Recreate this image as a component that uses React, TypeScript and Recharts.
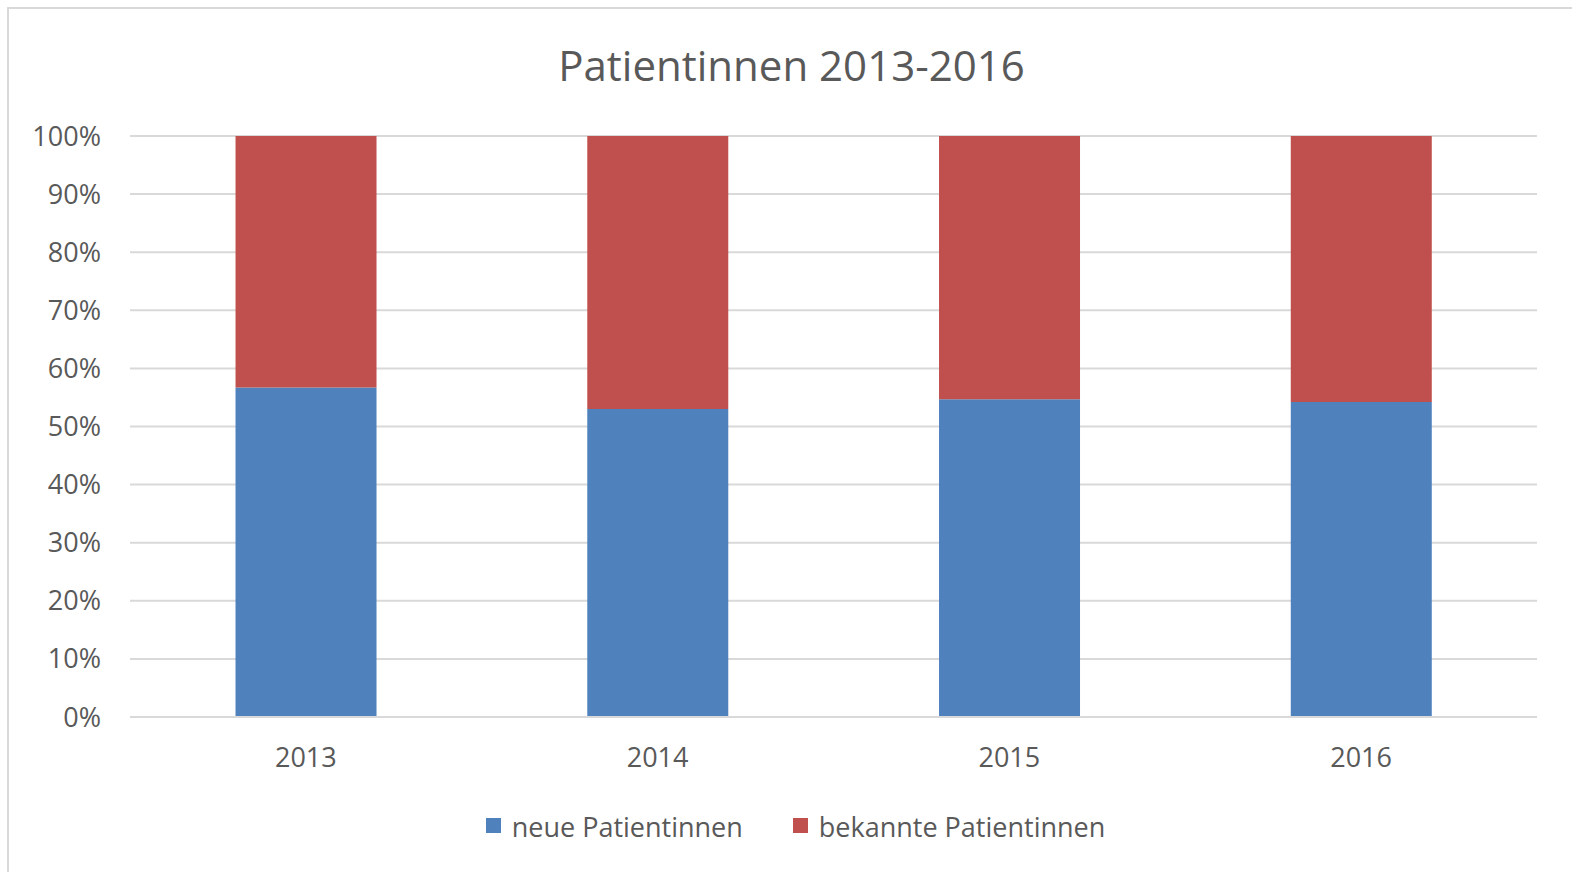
import React from "react";
import { BarChart, Bar, XAxis, YAxis, CartesianGrid } from "recharts";

const categories = ["2013", "2014", "2015", "2016"];
const neuePatientinnen = [56.7, 53.0, 54.7, 54.2];
const bekanntePatientinnen = [43.3, 47.0, 45.3, 45.8];
const yTicks = [0, 10, 20, 30, 40, 50, 60, 70, 80, 90, 100];
const title = "Patientinnen 2013-2016";

const series = [
  { key: "neue", name: "neue Patientinnen", color: "#4F81BD" },
  { key: "bekannte", name: "bekannte Patientinnen", color: "#C0504D" },
];

const data = categories.map((c, i) => ({
  year: c,
  neue: neuePatientinnen[i],
  bekannte: bekanntePatientinnen[i],
}));

const FONT = "'Open Sans', 'Noto Sans', sans-serif";
const TEXT = "#595959";
const GRID = "#D9D9D9";

export default function App() {
  return (
    <div
      style={{
        position: "fixed",
        left: 0,
        top: 0,
        width: 1572,
        height: 872,
        background: "#fff",
        fontFamily: FONT,
        overflow: "hidden",
      }}
    >
      <div
        style={{
          position: "absolute",
          left: 7,
          top: 7,
          right: -10,
          bottom: -10,
          borderTop: `2px solid ${GRID}`,
          borderLeft: `2px solid ${GRID}`,
        }}
      />
      <div
        style={{
          position: "absolute",
          left: 0,
          width: 1583,
          top: 44,
          textAlign: "center",
          fontSize: 42,
          lineHeight: "42px",
          color: TEXT,
          whiteSpace: "nowrap",
        }}
      >
        {title}
      </div>
      <div style={{ position: "absolute", left: 0, top: 0 }}>
        <BarChart
          width={1572}
          height={872}
          data={data}
          margin={{ top: 136, right: 35, bottom: 125, left: 0 }}
          barCategoryGap="30%"
        >
          <CartesianGrid vertical={false} stroke={GRID} strokeWidth={2} />
          <XAxis
            dataKey="year"
            height={30}
            axisLine={{ stroke: GRID, strokeWidth: 2 }}
            tickLine={false}
            tickSize={0}
            tickMargin={31}
            tick={{ fill: TEXT, fontSize: 27, fontFamily: FONT }}
          />
          <YAxis
            width={130}
            domain={[0, 100]}
            ticks={yTicks}
            interval={0}
            tickFormatter={(v: number) => `${v}%`}
            axisLine={false}
            tickLine={false}
            tickSize={0}
            tickMargin={29}
            tick={{ fill: TEXT, fontSize: 27, fontFamily: FONT }}
          />
          {series.map((s) => (
            <Bar
              key={s.key}
              dataKey={s.key}
              name={s.name}
              stackId="a"
              fill={s.color}
              isAnimationActive={false}
            />
          ))}
        </BarChart>
      </div>
      <div
        style={{
          position: "absolute",
          left: 0,
          width: 1591,
          top: 813,
          display: "flex",
          justifyContent: "center",
          alignItems: "center",
          fontSize: 27,
          lineHeight: "27px",
          color: TEXT,
          whiteSpace: "nowrap",
        }}
      >
        {series.map((s, i) => (
          <div
            key={s.key}
            style={{
              display: "flex",
              alignItems: "center",
              marginLeft: i === 0 ? 0 : 50,
            }}
          >
            <span
              style={{
                display: "inline-block",
                width: 15,
                height: 15,
                background: s.color,
                marginRight: 11,
                position: "relative",
                top: -1,
              }}
            />
            <span>{s.name}</span>
          </div>
        ))}
      </div>
    </div>
  );
}
